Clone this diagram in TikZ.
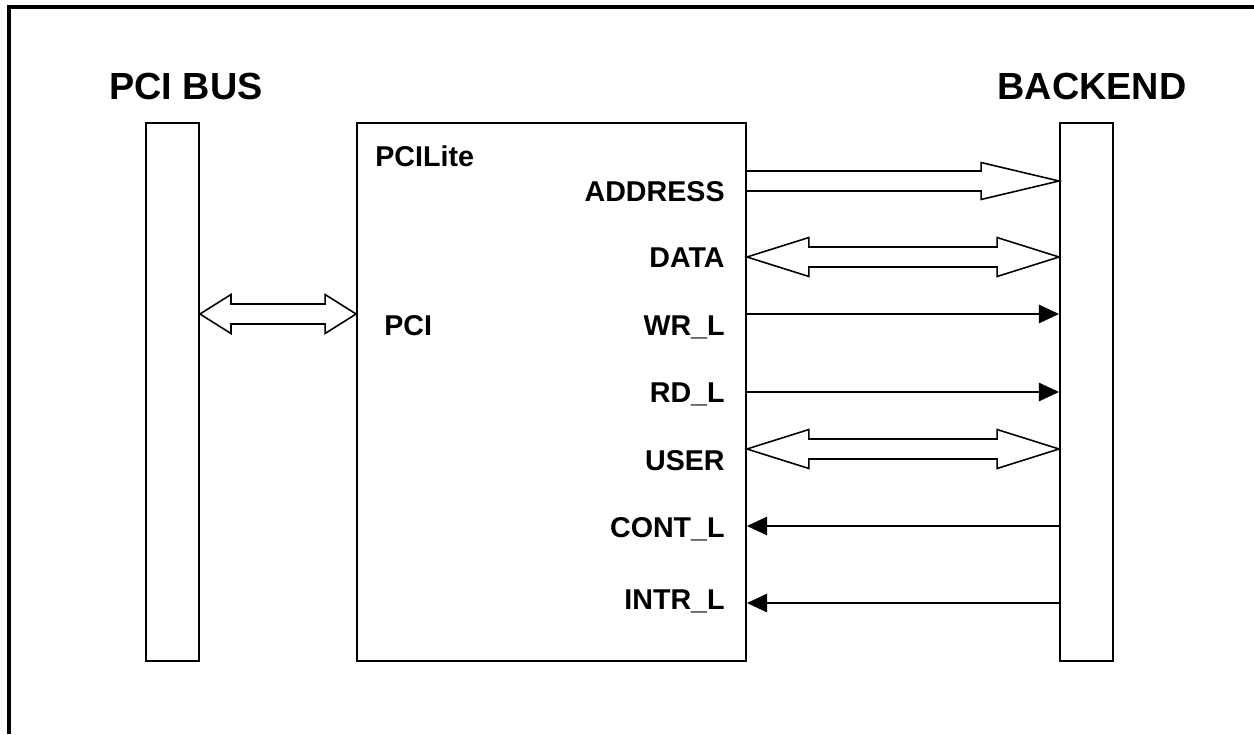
\documentclass[tikz,border=0pt]{standalone}
\usepackage{fontspec}
\setmainfont{Liberation Sans}
\usetikzlibrary{calc,arrows.meta}

\begin{document}
\begin{tikzpicture}[x=0.02cm, y=-0.02cm, line join=miter,
    block/.style={draw, line width=1.1pt, inner sep=0pt, minimum height=10.76cm},
    fat/.style={draw, line width=0.9pt},
    sig/.style={draw, line width=0.9pt, -{Triangle[length=11.5pt, width=10.5pt]}},
    title/.style={font=\fontsize{21.5}{24}\selectfont\bfseries, inner sep=0pt, anchor=base},
    pin/.style={font=\fontsize{16.3}{19}\selectfont\bfseries, inner sep=0pt, anchor=base east}]
    \useasboundingbox (0,0) rectangle (1254,734);
    % Frame
    \draw[line width=2.4pt] (1254,7) -- (9,7) -- (9,734);

    % Blocks
    \node[block, minimum width=1.06cm] (bus) at (172.5,392) {};
    \node[block, minimum width=7.78cm] (core) at (551.5,392) {};
    \node[block, minimum width=1.06cm] (backend) at (1086.5,392) {};

    % Titles
    \node[title] (bustitle) at (186,99) {PCI BUS};
    \node[title] (backtitle) at (1092,99) {BACKEND};
    \node[pin, anchor=base west] (corename) at (375,166) {PCILite};
    \node[pin, anchor=base west] (pcilabel) at (384,335) {PCI};

    % Pin labels
    \node[pin] (addr) at (725,201) {ADDRESS};
    \node[pin] (data) at (725,267) {DATA};
    \node[pin] (wr) at (725,335) {WR\_L};
    \node[pin] (rd) at (725,402) {RD\_L};
    \node[pin] (user) at (725,470) {USER};
    \node[pin] (cont) at (725,537) {CONT\_L};
    \node[pin] (intr) at (725,609) {INTR\_L};

    % PCI bus arrow
    \coordinate (pciA) at (bus.east |- 0,314);
    \coordinate (pciB) at (core.west |- 0,314);
    \draw[fat] (pciA) -- ++(31,-19.5) -- ++(0,9.5) -- ($(pciB)+(-31,-10)$) -- ++(0,-9.5)
        -- (pciB) -- ++(-31,19.5) -- ++(0,-9.5) -- ($(pciA)+(31,10)$) -- ++(0,9.5) -- cycle;

    % Address bus
    \coordinate (addrA) at (core.east |- 0,181);
    \coordinate (addrB) at (backend.west |- 0,181);
    \draw[fat] ($(addrA)+(0,-10)$) -- ($(addrB)+(-78,-10)$) -- ++(0,-8.5) -- (addrB)
        -- ++(-78,18.5) -- ++(0,-8.5) -- ($(addrA)+(0,10)$);

    % Data and user buses
    \foreach \name/\yy in {data/257, user/449} {
        \coordinate (\name A) at (core.east |- 0,\yy);
        \coordinate (\name B) at (backend.west |- 0,\yy);
        \draw[fat] (\name A) -- ++(62,-19.5) -- ++(0,9.5) -- ($(\name B)+(-62,-10)$) -- ++(0,-9.5)
            -- (\name B) -- ++(-62,19.5) -- ++(0,-9.5) -- ($(\name A)+(62,10)$) -- ++(0,9.5) -- cycle;
    }

    % Strobes
    \draw[sig] (core.east |- 0,314) -- (backend.west |- 0,314);
    \draw[sig] (core.east |- 0,392) -- (backend.west |- 0,392);
    \draw[sig] (backend.west |- 0,526) -- (core.east |- 0,526);
    \draw[sig] (backend.west |- 0,603) -- (core.east |- 0,603);
\end{tikzpicture}
\end{document}
